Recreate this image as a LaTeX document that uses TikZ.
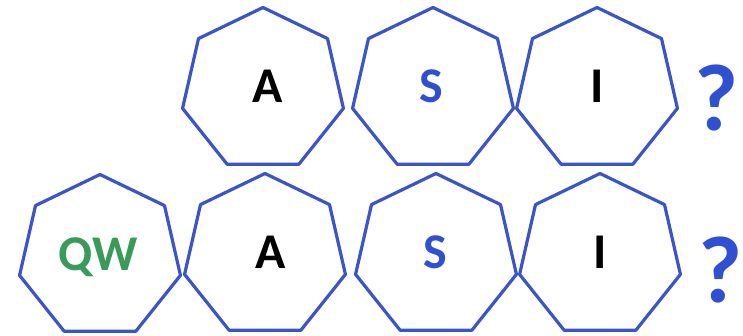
\documentclass[tikz,border=0pt]{standalone}
\usepackage{fontspec}
\setmainfont{Carlito}
\usetikzlibrary{shapes.geometric}
\definecolor{hepblue}{HTML}{3A55C8}
\definecolor{txtblue}{HTML}{2F50D0}
\definecolor{txtgreen}{HTML}{3A9A5A}
\begin{document}
\begin{tikzpicture}[x=1pt,y=-1pt,
  hept/.style={regular polygon, regular polygon sides=7, minimum size=165pt, inner sep=0pt, outer sep=0pt, draw=hepblue, line width=3.2pt, line join=round},
  lbl/.style={font=\bfseries\fontsize{50}{50}\selectfont, anchor=base, inner sep=0pt},
  qmark/.style={font=\bfseries\fontsize{95}{95}\selectfont, text=txtblue, anchor=base, inner sep=0pt}]
\useasboundingbox (0,0) rectangle (743,335);
% top row
\node[hept] (tA) at (263,90) {};
\node[hept] (tS) at (433,90) {};
\node[hept] (tI) at (597,90) {};
\node[lbl] (tAl) at (268,102) {A};
\node[lbl, text=txtblue] (tSl) at (431,102) {S};
\node[lbl] (tIl) at (597.5,102) {I};
\node[qmark] (tQ) at (716,130) {?};
% bottom row
\node[hept] (bQW) at (100,257) {};
\node[hept] (bA) at (265,256) {};
\node[hept] (bS) at (436,256) {};
\node[hept] (bI) at (600,256) {};
\node[lbl, text=txtgreen] (bQWl) at (98.5,270) {QW};
\node[lbl] (bAl) at (271,268) {A};
\node[lbl, text=txtblue] (bSl) at (435.5,268) {S};
\node[lbl] (bIl) at (600,268) {I};
\node[qmark] (bQ) at (720,302) {?};
\end{tikzpicture}
\end{document}
